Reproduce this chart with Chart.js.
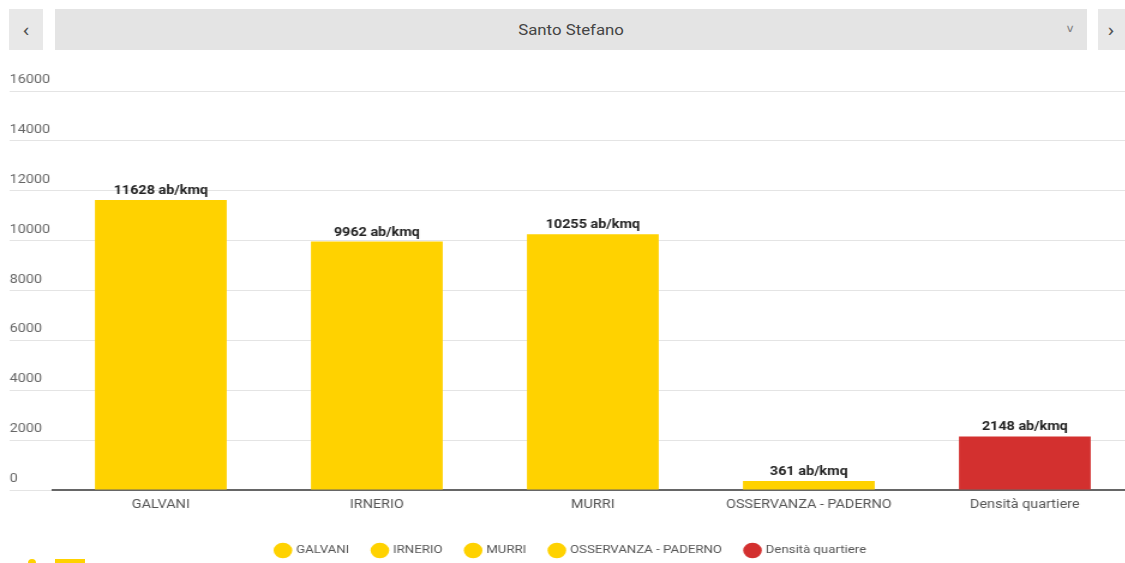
<!DOCTYPE html>
<html lang="it">
<head>
<meta charset="utf-8">
<title>Densità abitativa - Santo Stefano</title>
<script src="https://cdn.jsdelivr.net/npm/chart.js@4.4.1/dist/chart.umd.min.js"></script>
<style>
  html, body { margin: 0; padding: 0; background: #fff; overflow: hidden; width: 1125px; height: 563px; }
  body { font-family: Roboto, "Open Sans", sans-serif; position: relative; }
  .nav { position: absolute; top: 9px; height: 41px; background: #e8e8e8; color: #555; font-size: 19px;
         display: flex; align-items: center; justify-content: center; }
  .nav span { display: inline-block; transform: scaleX(1.2); }
  #prev { left: 9px; width: 34px; }
  #next { left: 1098px; width: 40px; justify-content: flex-start; padding-left: 10px; box-sizing: border-box; }
  #select { left: 55px; width: 1032px; background: #e4e4e4; color: #444; font-size: 14px; }
  #select .arrow { position: absolute; right: 13px; top: 13px; font-size: 11px; color: #888;
                   font-family: "DejaVu Sans", sans-serif; }
  /* il grafico è disegnato più stretto e allargato in orizzontale */
  #wrap { position: absolute; left: 0; top: 60px; width: 944px; height: 506px;
          transform: scaleX(1.2); transform-origin: 0 0; }
  .logo { position: absolute; background: #ffd200; }
</style>
</head>
<body>
  <div class="nav" id="prev"><span>&lsaquo;</span></div>
  <div class="nav" id="select"><span>Santo Stefano</span><span class="arrow">&#8744;</span></div>
  <div class="nav" id="next"><span>&rsaquo;</span></div>
  <div id="wrap"><canvas id="graficoDensita"></canvas></div>
  <div class="logo" style="left:28px; top:559px; width:8px; height:6px; border-radius:4px 4px 0 0;"></div>
  <div class="logo" style="left:55px; top:559px; width:30px; height:6px;"></div>
<script>
// dati: densità abitativa per zona (ab/kmq)
const zone = ["GALVANI", "IRNERIO", "MURRI", "OSSERVANZA - PADERNO", "Densità quartiere"];
const densita = [11628, 9962, 10255, 361, 2148];
const scalaY = [0, 2000, 4000, 6000, 8000, 10000, 12000, 14000, 16000];

const GIALLO = "#ffd200";
const ROSSO = "#d3302f";

// un dataset per zona, così ogni voce compare in legenda
const datasets = zone.map((nome, i) => ({
  label: nome,
  data: zone.map((_, j) => (j === i ? densita[i] : null)),
  backgroundColor: i === zone.length - 1 ? ROSSO : GIALLO,
  borderWidth: 0
}));

// etichetta con il valore sopra ogni barra
const etichetteValori = {
  id: "etichetteValori",
  afterDatasetsDraw(chart) {
    const ctx = chart.ctx;
    ctx.save();
    ctx.font = "bold 12px Roboto, sans-serif";
    ctx.fillStyle = "#222";
    ctx.textAlign = "center";
    ctx.textBaseline = "bottom";
    chart.data.datasets.forEach((ds, i) => {
      const meta = chart.getDatasetMeta(i);
      if (meta.hidden) return;
      meta.data.forEach((bar, j) => {
        const v = ds.data[j];
        if (v == null) return;
        ctx.fillText(v + " ab/kmq", bar.x, bar.y - 3);
      });
    });
    ctx.restore();
  }
};

const ctx = document.getElementById("graficoDensita").getContext("2d");
new Chart(ctx, {
  type: "bar",
  data: { labels: zone, datasets: datasets },
  plugins: [etichetteValori],
  options: {
    responsive: true,
    maintainAspectRatio: false,
    animation: false,
    layout: { padding: { left: 8, top: 31, right: 0, bottom: 0 } },
    datasets: {
      bar: { grouped: false, barPercentage: 0.61, categoryPercentage: 1 }
    },
    scales: {
      x: {
        afterFit(scale) { scale.height = 35; },
        grid: { display: false, drawTicks: false },
        border: { color: "#666", width: 2 },
        ticks: { color: "#555", font: { size: 12, family: "Roboto" }, padding: 8, maxRotation: 0 }
      },
      y: {
        min: scalaY[0],
        max: scalaY[scalaY.length - 1],
        afterBuildTicks(scale) {
          scale.ticks = scalaY.map(v => ({ value: v }));
        },
        afterFit(scale) { scale.width = 36; },
        grid: { color: "#e4e4e4", tickLength: 36, tickColor: "#e4e4e4" },
        border: { display: false },
        ticks: {
          color: "#666",
          font: { size: 12, family: "Roboto" },
          crossAlign: "far",
          labelOffset: -11,
          padding: 0,
          callback: v => String(v)
        }
      }
    },
    plugins: {
      legend: {
        position: "bottom",
        labels: {
          usePointStyle: true,
          pointStyle: "circle",
          boxWidth: 12,
          boxHeight: 12,
          padding: 20,
          color: "#555",
          font: { size: 11, family: "Roboto" }
        }
      },
      tooltip: { enabled: false }
    }
  }
});
</script>
</body>
</html>
